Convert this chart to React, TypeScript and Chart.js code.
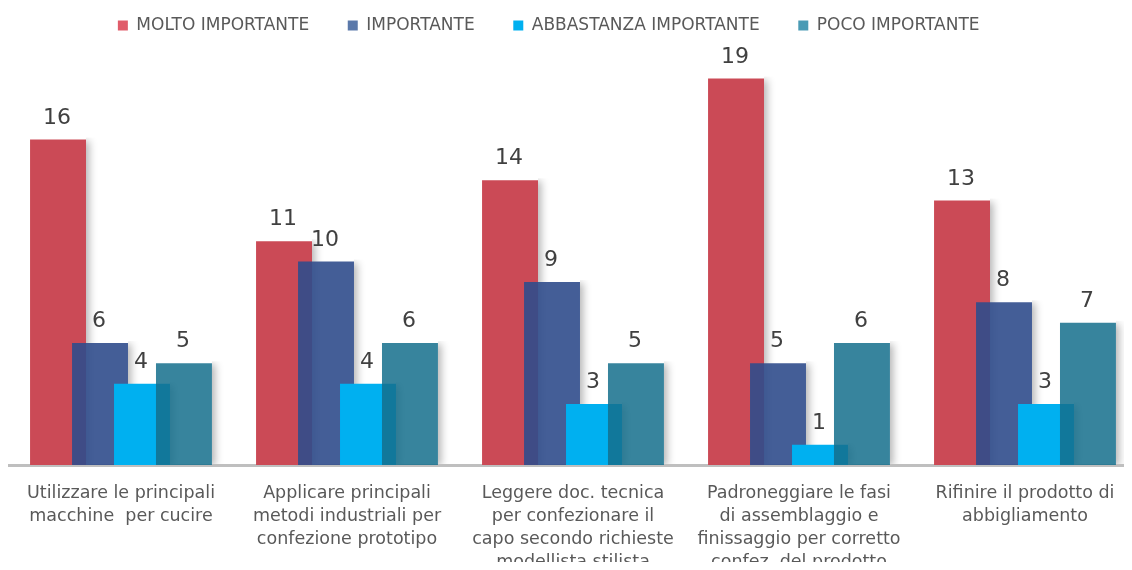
import React, { useEffect, useRef } from "react";
import { Chart, registerables } from "chart.js";

Chart.register(...registerables);

const categories: string[][] = [
  ["Utilizzare le principali", "macchine  per cucire"],
  ["Applicare principali", "metodi industriali per", "confezione prototipo"],
  ["Leggere doc. tecnica", "per confezionare il", "capo secondo richieste", "modellista stilista"],
  ["Padroneggiare le fasi", "di assemblaggio e", "finissaggio per corretto", "confez. del prodotto"],
  ["Rifinire il prodotto di", "abbigliamento"],
];

const seriesNames = ["MOLTO IMPORTANTE", "IMPORTANTE", "ABBASTANZA IMPORTANTE", "POCO IMPORTANTE"];
const moltoImportante = [16, 11, 14, 19, 13];
const importante = [6, 10, 9, 5, 8];
const abbastanzaImportante = [4, 4, 3, 1, 3];
const pocoImportante = [5, 6, 5, 6, 7];

const barColors = ["#cb4a56", "rgba(48,76,140,0.9)", "#00b0f0", "rgba(20,110,140,0.85)"];
const legendColors = ["#e05c6a", "#5b79aa", "#00b0f0", "#4a9bb5"];

const FONT = '"DejaVu Sans", sans-serif';
const NBSP = "\u00A0";

// Soft right-side shadows first, then datasets in index order (later series on top), then value labels.
const orderedDraw = {
  id: "orderedDraw",
  beforeDatasetsDraw(chart: any) {
    const ctx = chart.ctx;
    const n = chart.data.datasets.length;
    const area = chart.chartArea;
    const OFF = 10000;
    for (let i = 0; i < n; i++) {
      const meta = chart.getDatasetMeta(i);
      meta.data.forEach((el: any) => {
        const w = el.width;
        const left = el.x - w / 2;
        const right = el.x + w / 2;
        ctx.save();
        ctx.beginPath();
        ctx.rect(right, el.y - 2, 14, area.bottom - 1 - (el.y - 2));
        ctx.clip();
        ctx.shadowColor = "rgba(0,0,0,0.3)";
        ctx.shadowBlur = 8;
        ctx.shadowOffsetX = OFF + 3;
        ctx.shadowOffsetY = 1;
        ctx.fillStyle = "#000";
        ctx.fillRect(left - OFF, el.y, w, el.base - el.y);
        ctx.restore();
      });
    }

    for (let i = 0; i < n; i++) {
      const meta = chart.getDatasetMeta(i);
      if (meta.visible !== false) meta.controller.draw();
    }

    ctx.save();
    ctx.font = `22px ${FONT}`;
    ctx.fillStyle = "#404040";
    ctx.textAlign = "center";
    ctx.textBaseline = "alphabetic";
    chart.data.datasets.forEach((ds: any, i: number) => {
      const meta = chart.getDatasetMeta(i);
      meta.data.forEach((el: any, j: number) => {
        ctx.fillText(String(ds.data[j]), el.x - 1, el.y - 16);
      });
    });
    ctx.restore();
    return false;
  },
};

export default function App() {
  const ref = useRef<HTMLCanvasElement | null>(null);

  useEffect(() => {
    if (!ref.current) return;
    const values = [moltoImportante, importante, abbastanzaImportante, pocoImportante];
    const chart = new Chart(ref.current, {
      type: "bar",
      data: {
        labels: categories,
        datasets: seriesNames.map((name, i) => ({
          label: name,
          data: values[i],
          backgroundColor: barColors[i],
          borderWidth: 0,
          barPercentage: 1.333,
          categoryPercentage: 0.743,
        })),
      },
      options: {
        responsive: false,
        animation: false,
        devicePixelRatio: 1,
        layout: { padding: { left: 8, right: 2, top: 0, bottom: -8 } },
        plugins: {
          tooltip: { enabled: false },
          legend: {
            position: "top",
            labels: {
              font: { family: FONT, size: 17 },
              color: "#595959",
              boxWidth: 10,
              boxHeight: 10,
              padding: 17,
              generateLabels: (c: any) =>
                c.data.datasets.map((ds: any, i: number) => ({
                  text: ds.label + NBSP.repeat(i < c.data.datasets.length - 1 ? 4 : 9),
                  fillStyle: legendColors[i],
                  strokeStyle: legendColors[i],
                  lineWidth: 0,
                  hidden: false,
                  datasetIndex: i,
                  fontColor: "#595959",
                })),
            },
          },
        },
        scales: {
          x: {
            grid: { display: false, drawTicks: false },
            border: { display: true, color: "#bfbfbf", width: 3 },
            ticks: {
              font: { family: FONT, size: 17.5, lineHeight: 23 / 17.5 },
              color: "#595959",
              padding: 17,
              maxRotation: 0,
              autoSkip: false,
            },
            afterFit: (scale: any) => {
              scale.height = 113;
            },
          },
          y: {
            display: false,
            min: 0,
            max: 20.7,
            grid: { display: false },
          },
        },
      },
      plugins: [orderedDraw],
    });
    return () => chart.destroy();
  }, []);

  return (
    <div style={{ margin: "-8px", width: 1132, height: 570, overflow: "hidden", position: "relative" }}>
      <canvas ref={ref} width={1140} height={570} style={{ display: "block", width: 1140, height: 570 }} />
    </div>
  );
}
